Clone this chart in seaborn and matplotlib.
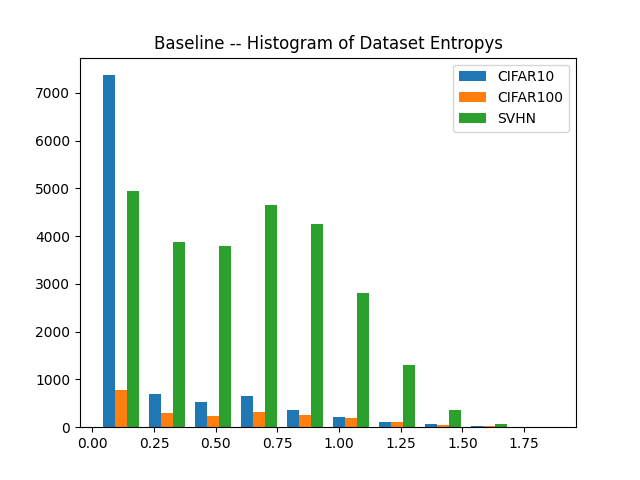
import numpy as np
import matplotlib
matplotlib.use("Agg")
import matplotlib.pyplot as plt
import seaborn as sns

# histogram bin edges (10 bins) and counts
edges = np.linspace(0.023, 1.888, 11)
cifar10 = [7370, 700, 530, 650, 360, 210, 110, 60, 20, 5]
cifar100 = [780, 300, 230, 310, 250, 190, 100, 40, 20, 5]
svhn = [4940, 3870, 3790, 4650, 4250, 2800, 1300, 360, 70, 10]
labels = ["CIFAR10", "CIFAR100", "SVHN"]

centers = (edges[:-1] + edges[1:]) / 2
colors = sns.color_palette("tab10", 3)

fig, ax = plt.subplots(figsize=(6.4, 4.8), dpi=100)
ax.hist([centers] * 3, bins=edges, weights=[cifar10, cifar100, svhn],
        label=labels, color=colors)
ax.set_title("Baseline -- Histogram of Dataset Entropys")
ax.legend()
plt.savefig("out.png")
